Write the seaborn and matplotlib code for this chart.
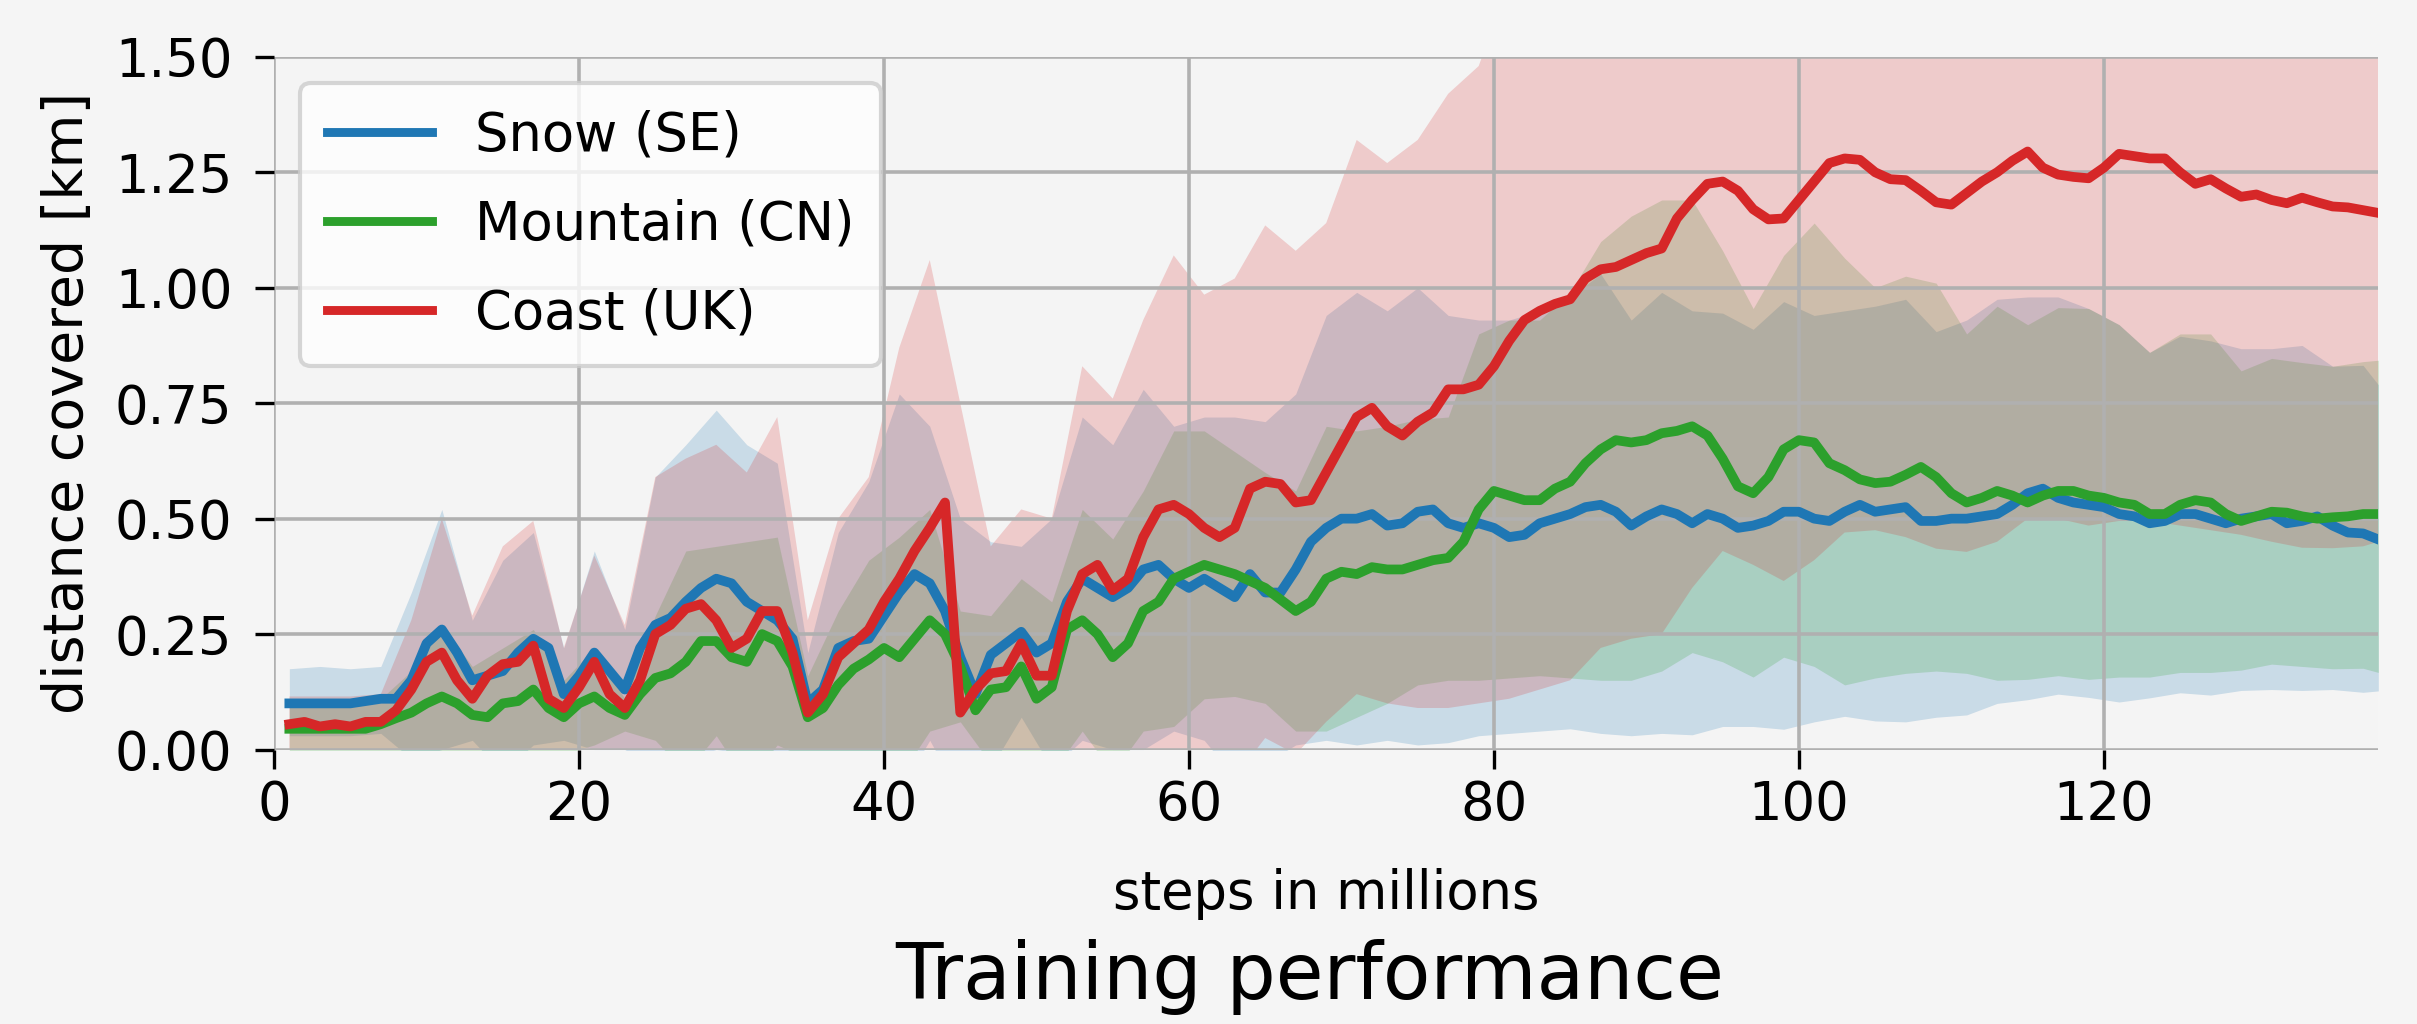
import numpy as np
import pandas as pd
import matplotlib
matplotlib.use("Agg")
import matplotlib.pyplot as plt
import seaborn as sns

# steps in millions (one logged point per million steps)
steps = list(range(1, 139))

snow = [
    0.10, 0.10, 0.10, 0.10, 0.10, 0.105, 0.11, 0.11, 0.15, 0.23,
    0.26, 0.21, 0.15, 0.16, 0.17, 0.21, 0.24, 0.22, 0.12, 0.16,
    0.21, 0.17, 0.13, 0.22, 0.27, 0.285, 0.32, 0.35, 0.37, 0.36,
    0.32, 0.30, 0.28, 0.24, 0.10, 0.13, 0.22, 0.235, 0.24, 0.29,
    0.34, 0.38, 0.36, 0.30, 0.20, 0.12, 0.205, 0.23, 0.255, 0.21,
    0.23, 0.32, 0.37, 0.35, 0.33, 0.35, 0.39, 0.40, 0.37, 0.35,
    0.37, 0.35, 0.33, 0.38, 0.34, 0.34, 0.39, 0.45, 0.48, 0.50,
    0.50, 0.51, 0.485, 0.49, 0.515, 0.52, 0.49, 0.48, 0.49, 0.48,
    0.46, 0.465, 0.49, 0.50, 0.51, 0.525, 0.53, 0.515, 0.485, 0.505,
    0.52, 0.51, 0.49, 0.51, 0.50, 0.48, 0.485, 0.495, 0.515, 0.515,
    0.50, 0.495, 0.515, 0.53, 0.515, 0.52, 0.525, 0.495, 0.495, 0.50,
    0.50, 0.505, 0.51, 0.53, 0.555, 0.565, 0.545, 0.535, 0.53, 0.525,
    0.51, 0.505, 0.49, 0.495, 0.51, 0.51, 0.50, 0.49, 0.50, 0.505,
    0.51, 0.49, 0.495, 0.505, 0.485, 0.47, 0.468, 0.455,
]

mountain = [
    0.045, 0.045, 0.045, 0.045, 0.045, 0.045, 0.055, 0.068, 0.08, 0.10,
    0.115, 0.10, 0.075, 0.07, 0.10, 0.105, 0.13, 0.09, 0.07, 0.10,
    0.115, 0.09, 0.075, 0.12, 0.155, 0.165, 0.19, 0.235, 0.235, 0.20,
    0.19, 0.25, 0.235, 0.18, 0.07, 0.09, 0.14, 0.175, 0.195, 0.22,
    0.20, 0.24, 0.28, 0.25, 0.18, 0.085, 0.13, 0.135, 0.18, 0.11,
    0.135, 0.26, 0.28, 0.25, 0.20, 0.23, 0.30, 0.32, 0.37, 0.385,
    0.40, 0.39, 0.38, 0.365, 0.35, 0.325, 0.30, 0.32, 0.37, 0.385,
    0.38, 0.395, 0.39, 0.39, 0.40, 0.41, 0.415, 0.45, 0.52, 0.56,
    0.55, 0.54, 0.54, 0.565, 0.58, 0.62, 0.65, 0.67, 0.665, 0.67,
    0.685, 0.69, 0.70, 0.68, 0.63, 0.57, 0.555, 0.59, 0.65, 0.67,
    0.665, 0.62, 0.605, 0.585, 0.577, 0.58, 0.595, 0.612, 0.59, 0.555,
    0.535, 0.545, 0.56, 0.55, 0.535, 0.55, 0.56, 0.56, 0.55, 0.545,
    0.535, 0.53, 0.51, 0.51, 0.53, 0.54, 0.535, 0.51, 0.495, 0.505,
    0.515, 0.513, 0.505, 0.50, 0.503, 0.505, 0.51, 0.51,
]

coast = [
    0.055, 0.06, 0.05, 0.055, 0.05, 0.06, 0.06, 0.085, 0.13, 0.19,
    0.21, 0.15, 0.11, 0.16, 0.185, 0.19, 0.225, 0.11, 0.09, 0.135,
    0.19, 0.12, 0.09, 0.15, 0.25, 0.27, 0.305, 0.315, 0.28, 0.22,
    0.24, 0.30, 0.30, 0.21, 0.08, 0.12, 0.20, 0.23, 0.26, 0.32,
    0.37, 0.43, 0.48, 0.535, 0.08, 0.13, 0.165, 0.17, 0.23, 0.16,
    0.16, 0.30, 0.38, 0.40, 0.345, 0.37, 0.46, 0.52, 0.53, 0.51,
    0.48, 0.46, 0.48, 0.565, 0.58, 0.575, 0.535, 0.54, 0.60, 0.66,
    0.72, 0.74, 0.70, 0.68, 0.71, 0.73, 0.78, 0.78, 0.79, 0.83,
    0.885, 0.93, 0.95, 0.965, 0.975, 1.02, 1.04, 1.045, 1.06, 1.075,
    1.085, 1.15, 1.19, 1.225, 1.23, 1.21, 1.17, 1.148, 1.15, 1.19,
    1.23, 1.27, 1.28, 1.277, 1.25, 1.235, 1.233, 1.21, 1.185, 1.18,
    1.205, 1.23, 1.25, 1.275, 1.295, 1.26, 1.245, 1.24, 1.237, 1.26,
    1.29, 1.285, 1.28, 1.28, 1.25, 1.225, 1.235, 1.215, 1.197, 1.202,
    1.19, 1.183, 1.195, 1.185, 1.176, 1.174, 1.168, 1.162,
]

# spread bands, read every second step
band_steps = list(range(1, 138, 2)) + [138]

snow_hi = [
    0.175, 0.18, 0.175, 0.18, 0.34, 0.52, 0.28, 0.41, 0.47, 0.22,
    0.43, 0.26, 0.59, 0.66, 0.735, 0.66, 0.62, 0.21, 0.47, 0.58,
    0.77, 0.70, 0.50, 0.45, 0.44, 0.50, 0.72, 0.66, 0.78, 0.70,
    0.72, 0.72, 0.71, 0.77, 0.94, 0.99, 0.95, 1.00, 0.94, 0.93,
    0.93, 0.95, 0.98, 1.03, 0.93, 0.99, 0.95, 0.945, 0.91, 0.97,
    0.94, 0.95, 0.96, 0.975, 0.905, 0.93, 0.975, 0.98, 0.98, 0.955,
    0.92, 0.86, 0.895, 0.885, 0.868, 0.868, 0.875, 0.83, 0.832, 0.79,
]
snow_lo = [
    0.03, 0.03, 0.03, 0.035, -0.02, 0.0, 0.02, -0.05, 0.01, 0.02,
    0.0, 0.0, -0.04, -0.02, 0.0, -0.01, -0.06, -0.01, -0.02, -0.1,
    -0.09, 0.02, -0.1, -0.04, 0.07, -0.04, 0.02, 0.0, 0.0, 0.04,
    0.02, -0.06, -0.03, 0.01, 0.02, 0.01, 0.02, 0.01, 0.015, 0.03,
    0.035, 0.04, 0.045, 0.035, 0.03, 0.035, 0.032, 0.05, 0.05, 0.044,
    0.06, 0.072, 0.062, 0.06, 0.07, 0.075, 0.10, 0.108, 0.12, 0.113,
    0.103, 0.112, 0.123, 0.118, 0.128, 0.13, 0.128, 0.13, 0.124, 0.127,
]
mountain_hi = [
    0.11, 0.11, 0.11, 0.11, 0.17, 0.27, 0.18, 0.22, 0.26, 0.15,
    0.22, 0.11, 0.29, 0.43, 0.44, 0.45, 0.46, 0.16, 0.30, 0.41,
    0.46, 0.52, 0.30, 0.29, 0.37, 0.32, 0.52, 0.456, 0.56, 0.69,
    0.69, 0.645, 0.60, 0.56, 0.70, 0.69, 0.70, 0.715, 0.72, 0.90,
    0.93, 0.93, 0.99, 1.10, 1.155, 1.19, 1.19, 1.08, 0.955, 1.07,
    1.14, 1.064, 1.0, 1.025, 1.01, 0.90, 0.96, 0.92, 0.957, 0.955,
    0.92, 0.86, 0.90, 0.90, 0.82, 0.847, 0.838, 0.83, 0.84, 0.843,
]
mountain_lo = [
    -0.01, -0.01, -0.01, -0.005, -0.01, -0.04, -0.02, -0.02, -0.01, -0.01,
    0.01, 0.04, 0.02, -0.05, 0.03, -0.07, 0.01, -0.02, -0.02, -0.02,
    -0.06, 0.04, 0.06, -0.03, -0.01, -0.05, 0.04, -0.05, 0.04, 0.05,
    0.11, 0.115, 0.10, 0.04, 0.04, 0.07, 0.10, 0.14, 0.15, 0.15,
    0.155, 0.16, 0.155, 0.15, 0.15, 0.17, 0.21, 0.19, 0.157, 0.20,
    0.18, 0.14, 0.155, 0.165, 0.17, 0.165, 0.15, 0.152, 0.16, 0.152,
    0.157, 0.157, 0.167, 0.167, 0.172, 0.185, 0.18, 0.175, 0.176, 0.167,
]
coast_hi = [
    0.115, 0.115, 0.115, 0.12, 0.28, 0.50, 0.29, 0.44, 0.495, 0.22,
    0.42, 0.27, 0.59, 0.63, 0.66, 0.60, 0.72, 0.28, 0.50, 0.59,
    0.87, 1.06, 0.75, 0.44, 0.52, 0.50, 0.83, 0.76, 0.93, 1.07,
    0.985, 1.02, 1.135, 1.08, 1.14, 1.32, 1.27, 1.32, 1.42, 1.48,
    1.66, 1.77, 1.79, 1.86, 1.88, 1.92, 2.03, 2.03, 1.94, 1.94,
    2.05, 2.09, 2.03, 2.0, 1.94, 1.98, 2.05, 2.09, 1.99, 1.99,
    2.08, 2.07, 2.02, 2.0, 1.93, 1.93, 1.95, 1.92, 1.9, 1.87,
]
coast_lo = [
    0.0, -0.01, -0.01, 0.0, -0.02, -0.08, -0.07, -0.07, -0.045, -0.04,
    -0.04, -0.09, -0.09, -0.02, -0.10, -0.12, -0.12, -0.12, -0.10, -0.07,
    -0.13, -0.10, -0.2, -0.11, -0.06, -0.18, -0.07, -0.07, -0.01, -0.01,
    -0.025, -0.06, 0.025, -0.01, 0.06, 0.12, 0.10, 0.09, 0.09, 0.10,
    0.11, 0.13, 0.15, 0.22, 0.24, 0.25, 0.35, 0.43, 0.40, 0.365,
    0.41, 0.47, 0.475, 0.46, 0.435, 0.428, 0.45, 0.50, 0.50, 0.485,
    0.495, 0.495, 0.485, 0.475, 0.465, 0.45, 0.437, 0.436, 0.44, 0.45,
]

labels = ["Snow (SE)", "Mountain (CN)", "Coast (UK)"]
colors = ["#1f77b4", "#2ca02c", "#d62728"]

df = pd.DataFrame({
    "steps": steps * 3,
    "distance": snow + mountain + coast,
    "terrain": [labels[0]] * len(snow) + [labels[1]] * len(mountain) + [labels[2]] * len(coast),
})

plt.rcParams["font.family"] = ["DejaVu Sans"]
fig, ax = plt.subplots(figsize=(12.085, 5.12), dpi=200)
fig.patch.set_facecolor("#f5f5f5")
ax.set_facecolor("#f4f4f4")
fig.subplots_adjust(left=0.1134, right=0.984, bottom=0.268, top=0.9445)

# bands first, lines on top
bands = [(snow_lo, snow_hi), (mountain_lo, mountain_hi), (coast_lo, coast_hi)]
for (lo, hi), c in zip(bands, colors):
    ax.fill_between(band_steps, lo, hi, color=c, alpha=0.2, linewidth=0)

sns.lineplot(data=df, x="steps", y="distance", hue="terrain", hue_order=labels,
             palette=colors, linewidth=3.5, errorbar=None, ax=ax)

ax.set_xlim(0, 138)
ax.set_ylim(0, 1.5)
ax.set_xticks([0, 20, 40, 60, 80, 100, 120])
ax.set_yticks([0, 0.25, 0.5, 0.75, 1.0, 1.25, 1.5])
ax.yaxis.set_major_formatter(matplotlib.ticker.FormatStrFormatter("%.2f"))
ax.tick_params(axis="both", labelsize=19, length=7, width=1.2, color="black")
ax.tick_params(axis="y", pad=8)
ax.grid(True, color="#b0b0b0", linewidth=1.3)
for s in ax.spines.values():
    s.set_visible(False)

ax.set_xlabel("steps in millions", fontsize=19)
ax.xaxis.set_label_coords(0.5, -0.171)
ax.set_ylabel("distance covered [km]", fontsize=20)
ax.yaxis.set_label_coords(-0.085, 0.5)

handles, _ = ax.get_legend_handles_labels()
leg = ax.legend(handles[:3], labels, loc="upper left", fontsize=19,
                labelspacing=0.7, borderpad=0.5,
                framealpha=0.8, edgecolor="#cccccc", facecolor="white")
leg.get_frame().set_linewidth(1.5)
for h in leg.get_lines():
    h.set_linewidth(3.2)

ax.text(0.492, -0.329, "Training performance", transform=ax.transAxes,
        ha="center", va="center", fontsize=28)

fig.savefig("out.png", dpi=200, facecolor=fig.get_facecolor())
